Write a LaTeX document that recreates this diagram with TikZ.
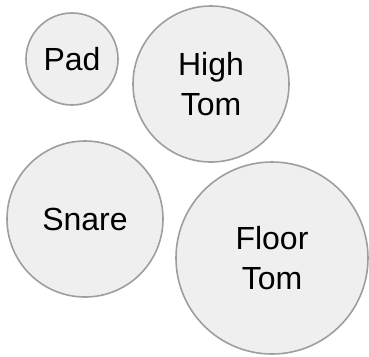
\documentclass[tikz,border=0pt]{standalone}
\usepackage{fontspec}
\setmainfont{Liberation Sans}
\definecolor{drumfill}{HTML}{EFEFEF}
\definecolor{drumline}{HTML}{9E9E9E}
\begin{document}
\begin{tikzpicture}[x=1pt,y=-1pt,
  drum/.style={circle,draw=drumline,fill=drumfill,line width=1.6pt,inner sep=0pt,
    align=center,font=\fontsize{32}{40}\selectfont}]
\useasboundingbox (0,0) rectangle (369,356);
\node[drum,minimum size=92pt] (pad) at (72,59) {Pad};
\node[drum,minimum size=156pt] (high) at (211,84) {High\\Tom};
\node[drum,minimum size=156pt] (snare) at (85,219) {Snare};
\node[drum,minimum size=192pt] (floor) at (272,258) {Floor\\Tom};
\end{tikzpicture}
\end{document}
